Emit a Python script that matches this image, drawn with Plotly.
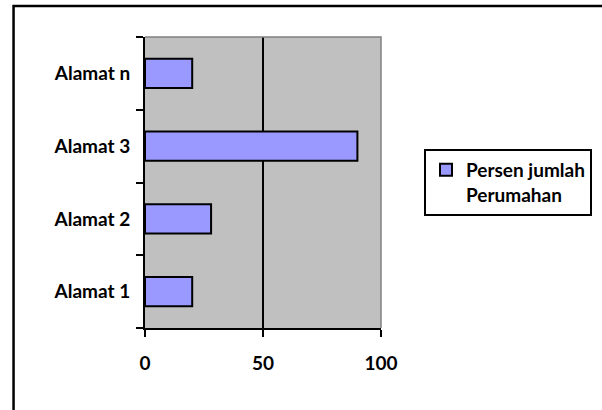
import plotly.graph_objects as go

# Data
categories = ["Alamat 1", "Alamat 2", "Alamat 3", "Alamat n"]
persen = [20, 28, 90, 20]
series_name = "Persen jumlah<br>Perumahan"
x_ticks = [0, 50, 100]

W, H = 602, 410
L, R, T, B = 145, 220, 37, 82
FONT = dict(family="Lato", size=19, color="black", weight="bold")


def px_x(px):
    return (px - L) / (W - L - R)


def px_y(py):
    return (H - B - py) / (H - T - B)


fig = go.Figure(
    go.Bar(
        y=categories,
        x=persen,
        orientation="h",
        name=series_name,
        width=0.4,
        marker=dict(color="#9999FF", line=dict(color="black", width=2)),
        showlegend=True,
    )
)

fig.update_layout(
    width=W,
    height=H,
    margin=dict(l=L, r=R, t=T, b=B, pad=0),
    paper_bgcolor="white",
    plot_bgcolor="#C0C0C0",
    font=FONT,
    showlegend=True,
    legend=dict(
        x=px_x(592),
        xanchor="right",
        y=px_y(149),
        yanchor="top",
        bordercolor="black",
        borderwidth=2,
        bgcolor="white",
        valign="top",
        font=FONT,
        itemclick=False,
    ),
    bargap=0.6,
)

fig.update_xaxes(
    range=[0, 100],
    tickvals=x_ticks,
    showgrid=True,
    gridcolor="black",
    gridwidth=1.5,
    zeroline=False,
    showline=True,
    linecolor="black",
    linewidth=2,
    ticks="outside",
    ticklen=7,
    tickwidth=2,
    tickcolor="black",
    ticklabelstandoff=10,
    fixedrange=True,
)

fig.update_yaxes(
    categoryorder="array",
    categoryarray=categories,
    showgrid=False,
    zeroline=False,
    showline=True,
    linecolor="black",
    linewidth=2,
    ticks="outside",
    tickson="boundaries",
    ticklen=7,
    tickwidth=2,
    tickcolor="black",
    ticklabelstandoff=9,
    fixedrange=True,
)

# Grey frame on the top and right sides of the plot area
fig.add_shape(
    type="path",
    xref="paper", yref="paper",
    path="M 0 1 L 1 1 L 1 0",
    line=dict(color="#808080", width=1.5),
    layer="above",
)

# Outer chart border (top and left edges)
fig.add_shape(
    type="path",
    xref="paper", yref="paper",
    path=f"M {px_x(13)} {px_y(H + 5)} L {px_x(13)} {px_y(6)} L {px_x(W + 5)} {px_y(6)}",
    line=dict(color="black", width=2.5),
    layer="above",
)

fig.write_html("out.html", config=dict(displayModeBar=False))
